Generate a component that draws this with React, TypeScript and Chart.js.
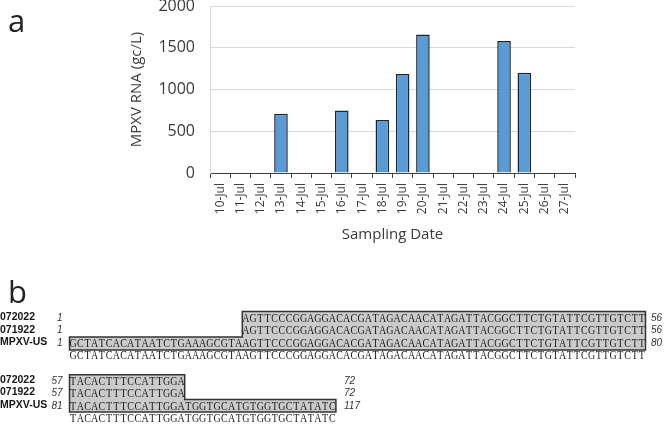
import React, { useEffect, useRef } from 'react';
import { Chart, registerables } from 'chart.js';

Chart.register(...registerables);

// ---------- Panel a data ----------
const dates = [
  '10-Jul', '11-Jul', '12-Jul', '13-Jul', '14-Jul', '15-Jul', '16-Jul', '17-Jul', '18-Jul',
  '19-Jul', '20-Jul', '21-Jul', '22-Jul', '23-Jul', '24-Jul', '25-Jul', '26-Jul', '27-Jul',
];
const rnaValues = [0, 0, 0, 710, 0, 0, 750, 0, 635, 1185, 1660, 0, 0, 0, 1580, 1200, 0, 0];
const yMin = 0;
const yMax = 2000;
const yStep = 500;

// ---------- Panel b data ----------
const seqNames = ['072022', '071922', 'MPXV-US'];
const block1Seqs = [
  'AGTTCCCGGAGGACACGATAGACAACATAGATTACGGCTTCTGTATTCGTTGTCTT',
  'AGTTCCCGGAGGACACGATAGACAACATAGATTACGGCTTCTGTATTCGTTGTCTT',
  'GCTATCACATAATCTGAAAGCGTAAGTTCCCGGAGGACACGATAGACAACATAGATTACGGCTTCTGTATTCGTTGTCTT',
];
const block1ColOffsets = [24, 24, 0];
const block1StartNums = ['1', '1', '1'];
const block1EndNums = ['56', '56', '80'];
const block1Consensus = 'GCTATCACATAATCTGAAAGCGTAAGTTCCCGGAGGACACGATAGACAACATAGATTACGGCTTCTGTATTCGTTGTCTT';

const block2Seqs = [
  'TACACTTTCCATTGGA',
  'TACACTTTCCATTGGA',
  'TACACTTTCCATTGGATGGTGCATGTGGTGCTATATC',
];
const block2ColOffsets = [0, 0, 0];
const block2StartNums = ['57', '57', '81'];
const block2EndNums = ['72', '72', '117'];
const block2Consensus = 'TACACTTTCCATTGGATGGTGCATGTGGTGCTATATC';

const TEXT = '#3a3a3a';

function drawBlock(
  ctx: CanvasRenderingContext2D,
  seqs: string[],
  offsets: number[],
  startNums: string[],
  endNums: string[],
  consensus: string,
  top: number,
  pitch: number,
  consensusY: number,
  endNumX: number,
) {
  const x0 = 69.5;
  const cw = 7.2;
  const colX = (c: number) => x0 + c * cw;
  const rowY = (i: number) => top + pitch * (i + 0.5);

  // staircase box
  const tl = colX(offsets[0]);
  const tr = colX(offsets[0] + seqs[0].length);
  const bl = colX(offsets[2]);
  const br = colX(offsets[2] + seqs[2].length);
  const step = top + pitch * 2;
  const bottom = top + pitch * 3;
  ctx.save();
  ctx.beginPath();
  ctx.moveTo(tl, top);
  ctx.lineTo(tr, top);
  ctx.lineTo(tr, step);
  ctx.lineTo(br, step);
  ctx.lineTo(br, bottom);
  ctx.lineTo(bl, bottom);
  ctx.lineTo(bl, step);
  ctx.lineTo(tl, step);
  ctx.closePath();
  ctx.fillStyle = '#cbcbcb';
  ctx.fill();
  ctx.strokeStyle = '#333';
  ctx.lineWidth = 1.5;
  ctx.stroke();
  ctx.restore();

  // names and numbers
  ctx.save();
  ctx.textBaseline = 'middle';
  for (let i = 0; i < seqs.length; i++) {
    const y = rowY(i);
    ctx.fillStyle = '#151515';
    ctx.font = 'bold 10.5px "Liberation Sans", Arial, sans-serif';
    ctx.textAlign = 'left';
    ctx.fillText(seqNames[i], 0, y - 1);
    ctx.fillStyle = '#333';
    ctx.font = 'italic 10px "Liberation Sans", Arial, sans-serif';
    ctx.textAlign = 'right';
    ctx.fillText(startNums[i], 62.5, y);
    ctx.textAlign = 'left';
    ctx.fillText(endNums[i], endNumX, y);
  }
  ctx.restore();

  // sequence letters
  const drawSeq = (s: string, off: number, y: number) => {
    for (let k = 0; k < s.length; k++) {
      const cx = colX(off + k) + cw / 2;
      ctx.save();
      ctx.translate(cx, y);
      ctx.scale(0.8, 1);
      ctx.fillText(s[k], 0, 0);
      ctx.restore();
    }
  };
  ctx.save();
  ctx.font = '12.5px "Liberation Serif", "Times New Roman", serif';
  ctx.textAlign = 'center';
  ctx.textBaseline = 'middle';
  ctx.fillStyle = '#1a1a1a';
  for (let i = 0; i < seqs.length; i++) drawSeq(seqs[i], offsets[i], rowY(i) + 0.5);
  drawSeq(consensus, 0, consensusY);
  ctx.restore();
}

const figurePlugin = {
  id: 'figureExtras',
  afterDraw(chart: any) {
    const ctx: CanvasRenderingContext2D = chart.ctx;
    ctx.save();
    ctx.fillStyle = '#222';
    ctx.font = '31px "Open Sans", sans-serif';
    ctx.textAlign = 'left';
    ctx.textBaseline = 'alphabetic';
    ctx.fillText('a', 8, 32);
    ctx.fillText('b', 8, 303);
    ctx.restore();

    drawBlock(ctx, block1Seqs, block1ColOffsets, block1StartNums, block1EndNums, block1Consensus,
      311.5, 12.8, 355.5, 651);
    drawBlock(ctx, block2Seqs, block2ColOffsets, block2StartNums, block2EndNums, block2Consensus,
      374.8, 12.4, 418.3, 344);
  },
};

export default function App() {
  const ref = useRef<HTMLCanvasElement | null>(null);

  useEffect(() => {
    if (!ref.current) return;
    const chart = new Chart(ref.current, {
      type: 'bar',
      data: {
        labels: dates,
        datasets: [
          {
            data: rnaValues,
            backgroundColor: '#5b9bd5',
            borderColor: '#1b2530',
            borderWidth: 1.5,
            barPercentage: 0.67,
            categoryPercentage: 1,
          },
        ],
      },
      options: {
        animation: false,
        responsive: false,
        devicePixelRatio: 1,
        layout: { padding: { left: 120, top: 6, right: 89, bottom: 180 } },
        plugins: {
          legend: { display: false },
          tooltip: { enabled: false },
        },
        scales: {
          x: {
            offset: true,
            grid: {
              offset: true,
              drawOnChartArea: false,
              drawTicks: true,
              tickLength: 5,
              color: '#404040',
            },
            border: { display: true, color: '#404040', width: 1 },
            ticks: {
              autoSkip: false,
              maxRotation: 90,
              minRotation: 90,
              padding: 5,
              color: TEXT,
              font: { family: '"Open Sans", sans-serif', size: 12 },
            },
            title: {
              display: true,
              text: 'Sampling Date',
              color: TEXT,
              font: { family: '"Open Sans", sans-serif', size: 15 },
              padding: { top: 0, bottom: 0 },
            },
            afterFit: (scale: any) => {
              scale.height = 71;
            },
          },
          y: {
            min: yMin,
            max: yMax,
            grid: { color: '#d9d9d9', drawTicks: false, lineWidth: 1 },
            border: { display: true, color: '#d9d9d9', width: 1 },
            ticks: {
              stepSize: yStep,
              padding: 15,
              color: TEXT,
              font: { family: '"Open Sans", sans-serif', size: 16 },
              callback: (v: any) => String(v),
            },
            title: {
              display: true,
              text: 'MPXV RNA (gc/L)',
              color: TEXT,
              font: { family: '"Open Sans", sans-serif', size: 15 },
              padding: { top: 8, bottom: 0 },
            },
            afterFit: (scale: any) => {
              scale.width = 90;
              scale.paddingTop = 0;
              scale.paddingBottom = 0;
            },
          },
        },
      },
      plugins: [figurePlugin],
    });
    return () => chart.destroy();
  }, []);

  return (
    <div style={{ position: 'fixed', left: 0, top: 0, width: 664, height: 424, background: '#fff' }}>
      <canvas ref={ref} width={664} height={424} style={{ display: 'block' }} />
    </div>
  );
}
